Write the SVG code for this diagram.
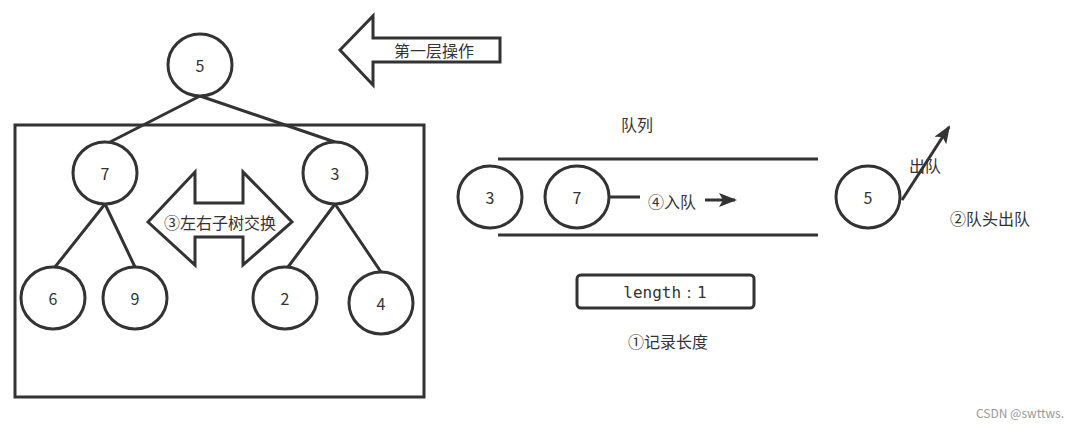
<svg xmlns="http://www.w3.org/2000/svg" width="1071" height="428" viewBox="0 0 1071 428">
<style>
.n{fill:#fff;stroke:#333;stroke-width:3}
.l{stroke:#333;stroke-width:3;fill:none}
text{font-family:"Noto Sans CJK SC","Noto Sans",sans-serif;font-size:16px;fill:#333;text-anchor:middle;dominant-baseline:central}
</style>
<defs><marker id="a" markerWidth="10" markerHeight="8" refX="9" refY="4" orient="auto" markerUnits="userSpaceOnUse"><path d="M0,0L10,4L0,8L2,4Z" fill="#333"/></marker>
<marker id="b" markerWidth="18" markerHeight="14" refX="16" refY="7" orient="auto" markerUnits="userSpaceOnUse"><path d="M0,0L18,7L0,14L4,7Z" fill="#333"/></marker></defs>
<rect width="1071" height="428" fill="#fff"/>
<rect x="15" y="125" width="409" height="272" class="l" stroke-width="2.5"/>
<g id="connectors">
<path class="l" d="M200,96L110,142M200,96L335,142M105,204L55,267M105,204L135,267M335,204L288,267M335,204L381,272"/>
<path class="l" d="M498,159H818M498,235H818"/>
<path class="l" d="M608,197H640"/>
<path class="l" d="M705,200H735" marker-end="url(#b)"/>
<path class="l" d="M902,200L949,127" marker-end="url(#b)"/>
</g>
<g id="arrow1"><path class="l" d="M340,50L373,16V38H500V62H373V85Z" fill="#fff"/><text x="434" y="50">第一层操作</text></g>
<g id="arrow3"><path class="l" d="M148,222L195,172V203H243V172L292,222L243,265V237H195V265Z" fill="#fff"/><text x="220" y="222">③左右子树交换</text></g>
<g id="n5"><ellipse class="n" cx="200" cy="65" rx="32" ry="31"/><text x="200" y="65">5</text></g>
<g id="n7"><ellipse class="n" cx="105" cy="173" rx="32" ry="31"/><text x="105" y="173">7</text></g>
<g id="n3"><ellipse class="n" cx="335" cy="173" rx="32" ry="31"/><text x="335" y="173">3</text></g>
<g id="n6"><ellipse class="n" cx="53" cy="298" rx="32" ry="31"/><text x="53" y="298">6</text></g>
<g id="n9"><ellipse class="n" cx="135" cy="298" rx="32" ry="31"/><text x="135" y="298">9</text></g>
<g id="n2"><ellipse class="n" cx="285" cy="298" rx="32" ry="31"/><text x="285" y="298">2</text></g>
<g id="n4"><ellipse class="n" cx="381" cy="303" rx="32" ry="31"/><text x="381" y="303">4</text></g>
<g id="q3"><ellipse class="n" cx="490" cy="197" rx="32" ry="31"/><text x="490" y="197">3</text></g>
<g id="q7"><ellipse class="n" cx="577" cy="197" rx="32" ry="31"/><text x="577" y="197">7</text></g>
<g id="q5"><ellipse class="n" cx="868" cy="197" rx="32" ry="31"/><text x="868" y="197">5</text></g>
<text x="637" y="124">队列</text>
<text x="672" y="201">④入队</text>
<text x="925" y="165">出队</text>
<text x="990" y="218">②队头出队</text>
<g id="len"><rect x="577" y="275" width="177" height="33" rx="4" class="l" stroke-width="2.5"/><text x="665" y="292" style="font-family:'DejaVu Sans Mono',monospace">length：1</text></g>
<text x="668" y="341">①记录长度</text>
<text x="1020" y="412" style="font-size:12px;fill:#999">CSDN @swttws.</text>
</svg>
